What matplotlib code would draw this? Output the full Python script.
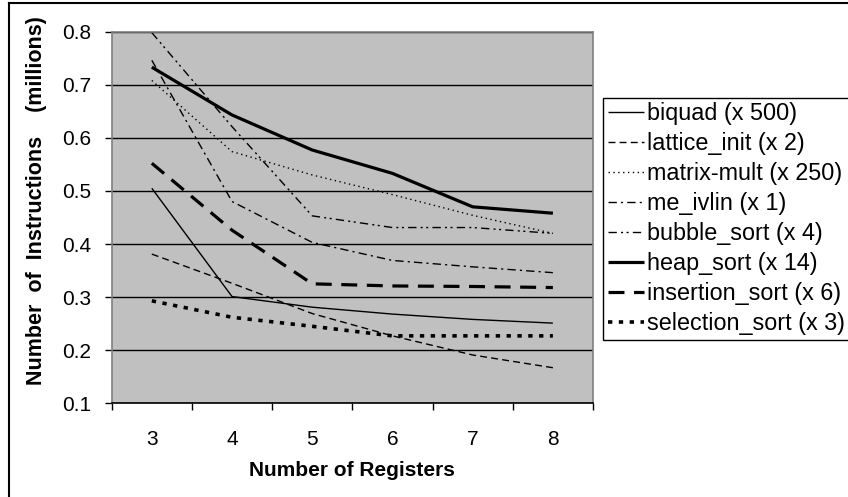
import matplotlib
matplotlib.use("Agg")
import matplotlib.pyplot as plt
from matplotlib.lines import Line2D

plt.rcParams['font.family'] = ['Liberation Sans', 'DejaVu Sans']

registers = ['3', '4', '5', '6', '7', '8']
series_names = ['biquad (x 500)', 'lattice_init (x 2)', 'matrix-mult (x 250)',
                'me_ivlin (x 1)', 'bubble_sort (x 4)', 'heap_sort (x 14)',
                'insertion_sort (x 6)', 'selection_sort (x 3)']
biquad = [0.505, 0.301, 0.281, 0.268, 0.258, 0.251]
lattice_init = [0.381, 0.326, 0.269, 0.227, 0.191, 0.167]
matrix_mult = [0.708, 0.574, 0.530, 0.493, 0.454, 0.420]
me_ivlin = [0.746, 0.480, 0.403, 0.369, 0.357, 0.346]
bubble_sort = [0.798, 0.621, 0.453, 0.431, 0.431, 0.420]
heap_sort = [0.733, 0.643, 0.577, 0.533, 0.470, 0.458]
insertion_sort = [0.552, 0.426, 0.325, 0.321, 0.320, 0.318]
selection_sort = [0.293, 0.262, 0.245, 0.227, 0.227, 0.227]
y_ticks = [0.1, 0.2, 0.3, 0.4, 0.5, 0.6, 0.7, 0.8]

all_series = [biquad, lattice_init, matrix_mult, me_ivlin, bubble_sort,
              heap_sort, insertion_sort, selection_sort]
styles = [
    dict(lw=1.0, ls='-'),
    dict(lw=1.0, ls=(0, (5, 3))),
    dict(lw=1.0, ls=(0, (1, 2.5))),
    dict(lw=1.0, ls=(0, (6, 3, 1.5, 3))),
    dict(lw=1.0, ls=(0, (6, 3, 1.5, 2.5, 1.5, 3))),
    dict(lw=2.3, ls='-'),
    dict(lw=2.3, ls=(0, (5, 3))),
    dict(lw=2.6, ls=(0, (1.2, 1.8))),
]

fig = plt.figure(figsize=(8.48, 4.97), dpi=100)
W, H = 848, 497
ax = fig.add_axes([111.7 / W, 1 - 403.3 / H, (593 - 111.7) / W, (403.3 - 31.6) / H])
ax.set_facecolor('#C0C0C0')

for name, vals, st in zip(series_names, all_series, styles):
    ax.plot(registers, vals, color='black', label=name, solid_capstyle='butt',
            dash_capstyle='butt', linewidth=st['lw'], linestyle=st['ls'])

ax.set_xlim(-0.5, 5.5)
ax.set_ylim(0.1, 0.8)
ax.set_yticks(y_ticks)
ax.set_yticklabels([f'{v:.1f}' for v in y_ticks])
ax.yaxis.grid(True, color='black', linewidth=1.0)
ax.set_axisbelow(True)

ax.set_xticks(range(len(registers)))
ax.set_xticklabels(registers)
ax.set_xticks([i - 0.5 for i in range(len(registers) + 1)], minor=True)
ax.tick_params(axis='x', which='major', length=0, pad=19, labelsize=15)
ax.tick_params(axis='x', which='minor', length=5, width=1, direction='out', color='black')
ax.tick_params(axis='y', which='major', length=5, width=1, direction='out', pad=10,
               labelsize=15, color='black')

for s in ['left', 'top', 'right']:
    ax.spines[s].set_color('#808080')
    ax.spines[s].set_linewidth(1.2)
ax.spines['bottom'].set_color('black')
ax.spines['bottom'].set_linewidth(1.2)

fig.text(352 / W, 1 - 471 / H, 'Number of Registers', ha='center', va='center',
         fontsize=15, fontweight='bold')
fig.text(37 / W, 1 - 201 / H, 'Number  of  Instructions    (millions)', ha='center',
         va='center', rotation=90, fontsize=15.5, fontweight='bold')

leg = fig.legend(loc='upper left', bbox_to_anchor=(603 / W, 1 - 97.7 / H),
                 bbox_transform=fig.transFigure, frameon=True, fancybox=False,
                 edgecolor='black', framealpha=1, fontsize=16.8, handlelength=1.55,
                 handletextpad=0.15, borderpad=0.2, labelspacing=0.3,
                 borderaxespad=0)
leg.get_frame().set_linewidth(1.0)

# outer chart border (left and top visible)
fig.add_artist(Line2D([9 / W, 9 / W], [0, 1 - 3 / H], transform=fig.transFigure,
                      color='black', linewidth=1.5))
fig.add_artist(Line2D([9 / W, 1], [1 - 3 / H, 1 - 3 / H], transform=fig.transFigure,
                      color='black', linewidth=1.5))

fig.savefig('out.png', dpi=100)
